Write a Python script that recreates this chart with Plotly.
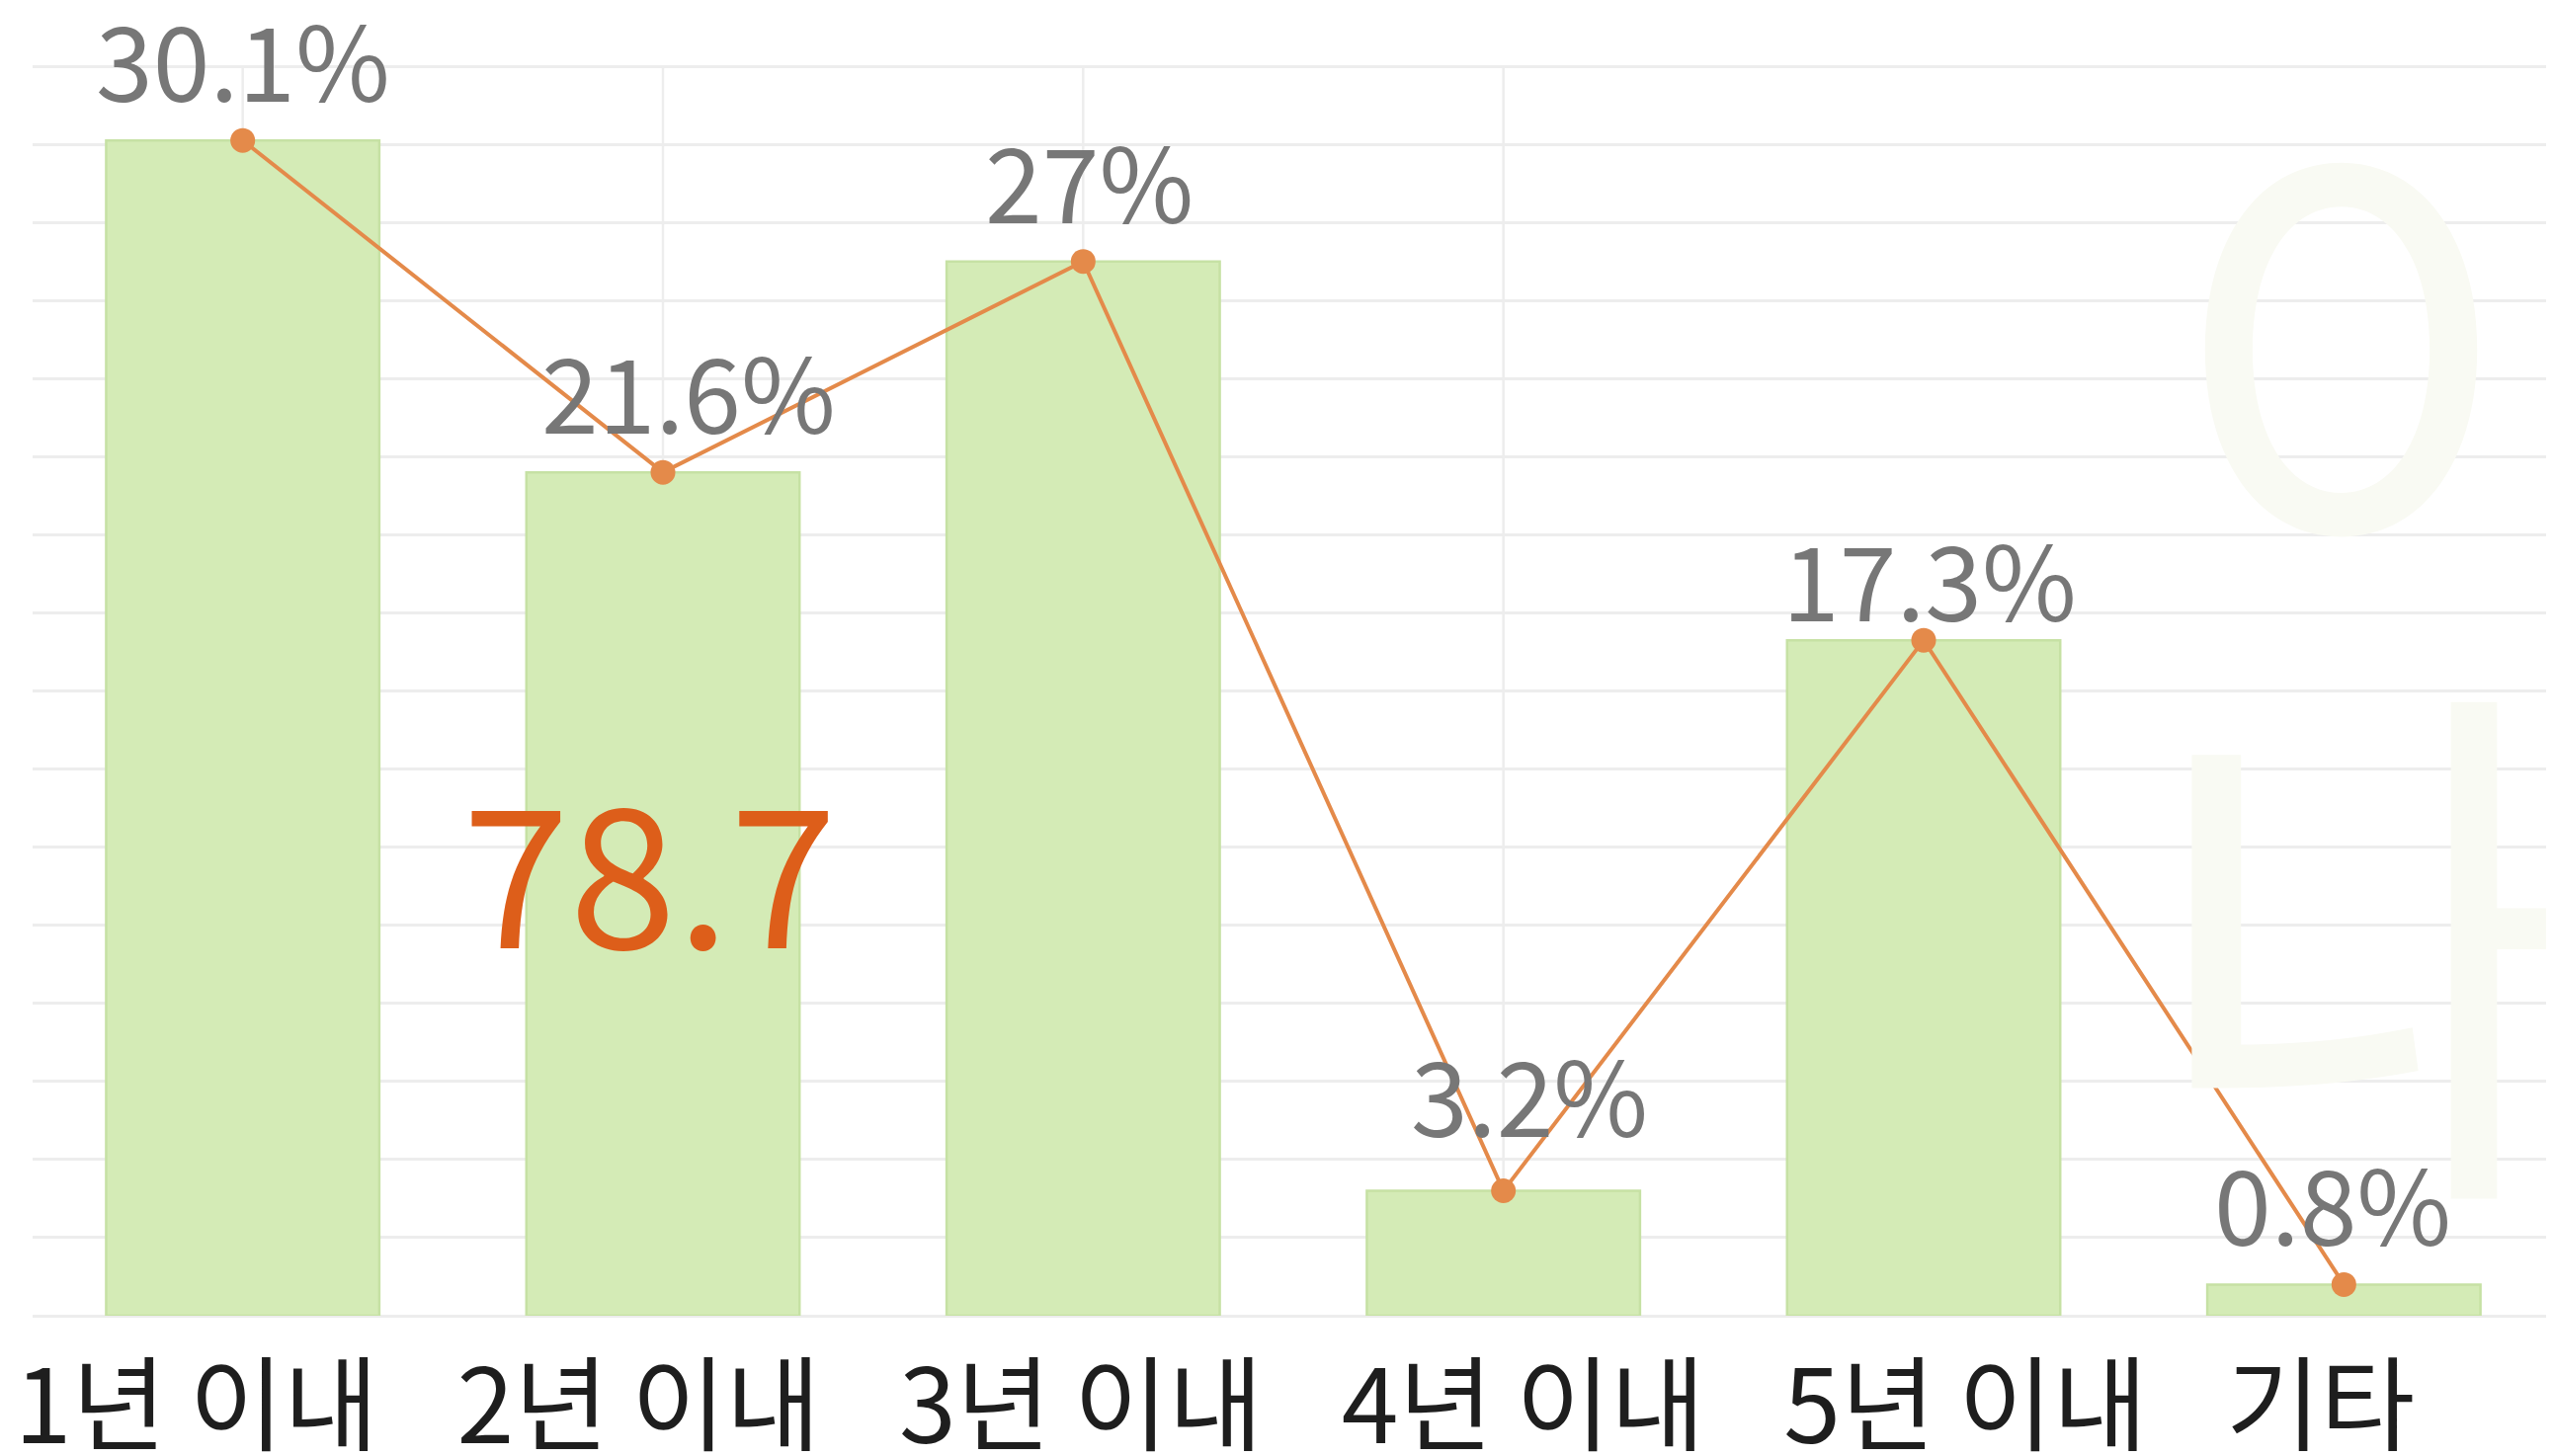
import plotly.graph_objects as go

# ---- data ----
categories = ["1년 이내", "2년 이내", "3년 이내", "4년 이내", "5년 이내", "기타"]
values = [30.1, 21.6, 27.0, 3.2, 17.3, 0.8]
value_labels = ["30.1%", "21.6%", "27%", "3.2%", "17.3%", "0.8%"]
watermark_chars = ["이", "내"]

# ---- style ----
W, H = 2577, 1466       # page has an 8px body margin
BOTTOM = 142
PLOT_LEFT = 25          # px where the category axis starts
LABEL_START = 20        # px of first label tick
LABEL_PITCH = 452       # px between category label ticks
BAR_COLOR = "#D4EBB6"
BAR_EDGE = "#C6E1A4"
LINE_COLOR = "#E48A4A"
LABEL_COLOR = "#777777"
GRID_COLOR = "#EDEDED"
FONT = "Noto Sans CJK KR"
PX_PER_UNIT = 39.53
label_dx = [0, 26, 6, 26, 6, -11]
label_dy = [0, 0, 0, 16, -20, 0]

fig = go.Figure()

fig.add_trace(go.Bar(
    x=categories, y=values, width=0.65,
    marker=dict(color=BAR_COLOR, line=dict(color=BAR_EDGE, width=2.5)),
    hoverinfo="skip", showlegend=False,
))
fig.add_trace(go.Scatter(
    x=categories, y=values, mode="lines+markers",
    line=dict(color=LINE_COLOR, width=4),
    marker=dict(color=LINE_COLOR, size=25),
    hoverinfo="skip", showlegend=False,
))
# invisible helper trace so the label axis is drawn
fig.add_trace(go.Scatter(
    x=list(range(len(categories))), y=values, xaxis="x2", mode="markers",
    marker=dict(opacity=0), hoverinfo="skip", showlegend=False,
))

# vertical grid segments at the first four categories
for c in categories[:4]:
    fig.add_shape(type="line", xref="x", yref="y", x0=c, x1=c, y0=0, y1=32,
                  line=dict(color=GRID_COLOR, width=2.5), layer="below")

# faint watermark
plot_h = H - BOTTOM
wm_pos = [(2450, 350), (2430, 925)]
for ch, (px, py) in zip(watermark_chars, wm_pos):
    fig.add_annotation(text=ch, xref="paper", yref="paper",
                       x=px / W, y=1 - py / plot_h, xanchor="center", yanchor="middle",
                       showarrow=False, font=dict(family=FONT, size=600, color="#F9FAF3"))

# value labels
for c, v, t, dx, dy in zip(categories, values, value_labels, label_dx, label_dy):
    fig.add_annotation(text=t, x=c, y=v, xref="x", yref="y", showarrow=False,
                       xanchor="center", yanchor="bottom", xshift=dx, yshift=7 + dy,
                       font=dict(family=FONT, size=104, color=LABEL_COLOR))

# cumulative share of the first three categories
total3 = sum(values[:3])
fig.add_annotation(text=f"{total3:.1f}", x=categories[1], y=11.56, xref="x", yref="y",
                   xshift=-14, showarrow=False, xanchor="center", yanchor="middle",
                   font=dict(family=FONT, size=195, color="#DD5E1A"))

r0 = -LABEL_START / LABEL_PITCH
fig.update_layout(
    width=W, height=H,
    margin=dict(l=0, r=0, t=0, b=BOTTOM, autoexpand=False),
    paper_bgcolor="white", plot_bgcolor="white",
    xaxis=dict(domain=[PLOT_LEFT / W, 1], range=[-0.5, 5.5], showticklabels=False,
               showgrid=False, zeroline=False, showline=False, fixedrange=True,
               automargin=False),
    xaxis2=dict(overlaying="x", anchor="y", side="bottom", domain=[0, 1],
                range=[r0, r0 + W / LABEL_PITCH],
                tickmode="array", tickvals=list(range(len(categories))), ticktext=categories,
                ticklabelposition="outside right", ticklabelshift=-38, ticklabelstandoff=24,
                ticks="", showgrid=False, zeroline=False, showline=False, automargin=False,
                tickfont=dict(family=FONT, size=104, color="#1E1E1E")),
    yaxis=dict(range=[0, plot_h / PX_PER_UNIT], dtick=2, showticklabels=False,
               gridcolor=GRID_COLOR, gridwidth=3, zeroline=True, automargin=False,
               zerolinecolor=GRID_COLOR, zerolinewidth=3),
)

fig.write_html("out.html")
